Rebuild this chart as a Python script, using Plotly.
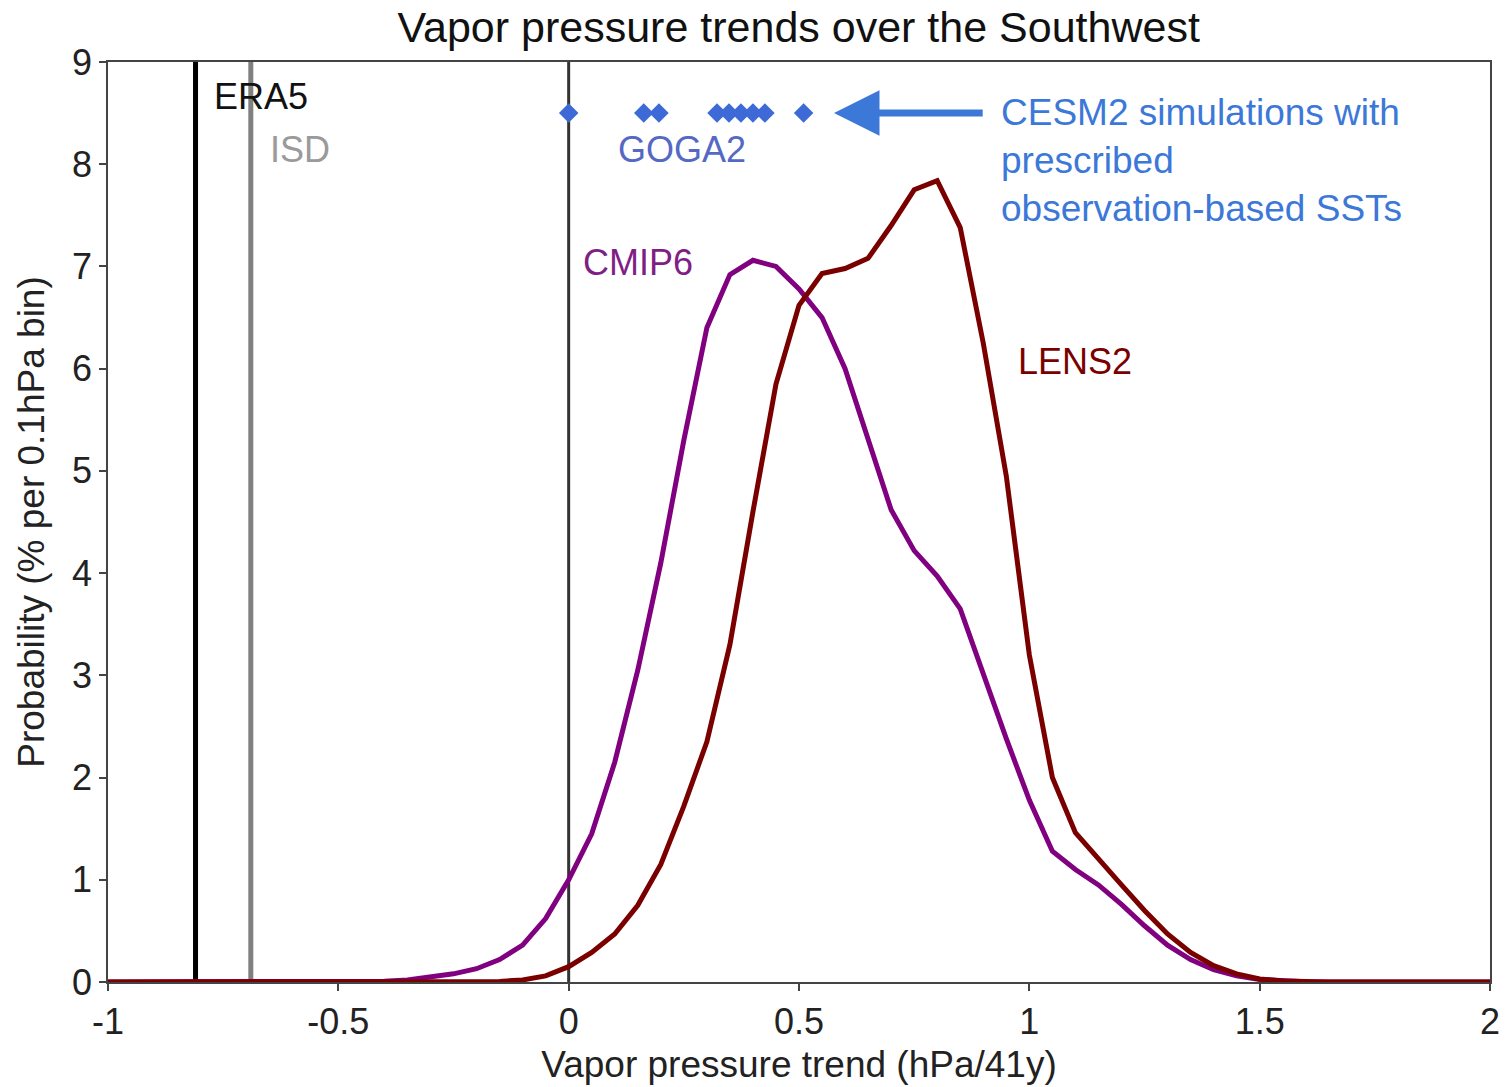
import plotly.graph_objects as go

# ---------------- data ----------------
trend_bins = [-1.00, -0.95, -0.90, -0.85, -0.80, -0.75, -0.70, -0.65, -0.60, -0.55,
              -0.50, -0.45, -0.40, -0.35, -0.30, -0.25, -0.20, -0.15, -0.10, -0.05,
              0.00, 0.05, 0.10, 0.15, 0.20, 0.25, 0.30, 0.35, 0.40, 0.45,
              0.50, 0.55, 0.60, 0.65, 0.70, 0.75, 0.80, 0.85, 0.90, 0.95,
              1.00, 1.05, 1.10, 1.15, 1.20, 1.25, 1.30, 1.35, 1.40, 1.45,
              1.50, 1.55, 1.60, 1.65, 1.70, 1.75, 1.80, 1.85, 1.90, 1.95, 2.00]

cmip6_prob = [0, 0, 0, 0, 0, 0, 0, 0, 0, 0,
              0, 0.002, 0.008, 0.02, 0.045, 0.08, 0.13, 0.22, 0.36, 0.62,
              1.0, 1.45, 2.15, 3.05, 4.1, 5.3, 6.4, 6.92, 7.06, 7.0,
              6.78, 6.5, 6.0, 5.3, 4.62, 4.22, 3.97, 3.65, 3.0, 2.38,
              1.78, 1.28, 1.1, 0.95, 0.76, 0.55, 0.36, 0.22, 0.12, 0.06,
              0.025, 0.008, 0.002, 0, 0, 0, 0, 0, 0, 0, 0]

lens2_prob = [0, 0, 0, 0, 0, 0, 0, 0, 0, 0,
              0, 0, 0, 0, 0, 0, 0.002, 0.006, 0.02, 0.06,
              0.15, 0.29, 0.47, 0.75, 1.15, 1.72, 2.35, 3.3, 4.6, 5.85,
              6.62, 6.93, 6.98, 7.08, 7.4, 7.75, 7.84, 7.38, 6.25, 4.95,
              3.2, 2.0, 1.46, 1.2, 0.95, 0.7, 0.47, 0.29, 0.16, 0.08,
              0.03, 0.01, 0.002, 0, 0, 0, 0, 0, 0, 0, 0]

goga2_trends = [0.0, 0.163, 0.196, 0.322, 0.348, 0.374, 0.40, 0.426, 0.51]
goga2_level = 8.5

obs_names = ["ERA5", "ISD"]
obs_trends = [-0.81, -0.69]

x_tick_vals = [-1, -0.5, 0, 0.5, 1, 1.5, 2]
x_tick_text = ["-1", "-0.5", "0", "0.5", "1", "1.5", "2"]
y_tick_vals = [0, 1, 2, 3, 4, 5, 6, 7, 8, 9]

# ---------------- figure ----------------
FONT = "Liberation Sans, Arial, sans-serif"
BLUE = "#3c78d8"

fig = go.Figure()

# zero reference line
fig.add_vline(x=0, line=dict(color="#333333", width=3), layer="below")
# observation lines
fig.add_vline(x=obs_trends[0], line=dict(color="#000000", width=5), layer="below")
fig.add_vline(x=obs_trends[1], line=dict(color="#808080", width=5), layer="below")

fig.add_trace(go.Scatter(x=trend_bins, y=cmip6_prob, mode="lines",
                         line=dict(color="#800080", width=5), name="CMIP6",
                         showlegend=False))
fig.add_trace(go.Scatter(x=trend_bins, y=lens2_prob, mode="lines",
                         line=dict(color="#7a0000", width=5), name="LENS2",
                         showlegend=False))
fig.add_trace(go.Scatter(x=goga2_trends, y=[goga2_level] * len(goga2_trends),
                         mode="markers",
                         marker=dict(symbol="diamond", size=15, color="#3d6ad6",
                                     line=dict(width=0)),
                         name="GOGA2", showlegend=False))

ann_font = dict(family=FONT, size=36)
fig.add_annotation(x=-0.775, y=8.66, text=obs_names[0], showarrow=False,
                   xanchor="left", yanchor="middle", font=dict(**ann_font, color="#111111"))
fig.add_annotation(x=-0.652, y=8.14, text=obs_names[1], showarrow=False,
                   xanchor="left", yanchor="middle", font=dict(**ann_font, color="#9a9a9a"))
fig.add_annotation(x=0.102, y=8.14, text="GOGA2", showarrow=False,
                   xanchor="left", yanchor="middle", font=dict(**ann_font, color="#5468c4"))
fig.add_annotation(x=0.026, y=7.04, text="CMIP6", showarrow=False,
                   xanchor="left", yanchor="middle", font=dict(**ann_font, color="#7f1f85"))
fig.add_annotation(x=0.972, y=6.07, text="LENS2", showarrow=False,
                   xanchor="left", yanchor="middle", font=dict(**ann_font, color="#7a0000"))

# blue arrow
fig.add_annotation(x=0.576, y=goga2_level, ax=0.902, ay=goga2_level,
                   xref="x", yref="y", axref="x", ayref="y",
                   text="", showarrow=True, arrowhead=2, arrowsize=1.3,
                   arrowwidth=7, arrowcolor=BLUE)
fig.add_annotation(x=0.935, y=8.73, text="CESM2 simulations with<br>prescribed<br>observation-based SSTs",
                   showarrow=False, xanchor="left", yanchor="top", align="left",
                   font=dict(family=FONT, size=37, color=BLUE))

axis_common = dict(showline=True, linecolor="#444444", linewidth=1.5, mirror=True,
                   ticks="outside", ticklen=7, tickwidth=1.5, tickcolor="#444444",
                   showgrid=False, zeroline=False, automargin=False,
                   tickfont=dict(family=FONT, size=36, color="#222222"))

fig.update_xaxes(range=[-1, 2], tickvals=x_tick_vals, ticktext=x_tick_text,
                 title=dict(text="Vapor pressure trend (hPa/41y)", standoff=10,
                            font=dict(family=FONT, size=37, color="#222222")),
                 **axis_common)
fig.update_yaxes(range=[0, 9], tickvals=y_tick_vals,
                 title=dict(text="Probability (% per 0.1hPa bin)", standoff=16,
                            font=dict(family=FONT, size=37, color="#222222")),
                 **axis_common)

fig.update_layout(
    width=1507, height=1087,
    margin=dict(l=108, r=17, t=62, b=105),
    paper_bgcolor="white", plot_bgcolor="white",
    title=dict(text="Vapor pressure trends over the Southwest", x=0.53, xanchor="center",
               y=0.975, yanchor="middle",
               font=dict(family=FONT, size=43, color="#111111")),
    showlegend=False,
)

fig.write_html("out.html")
